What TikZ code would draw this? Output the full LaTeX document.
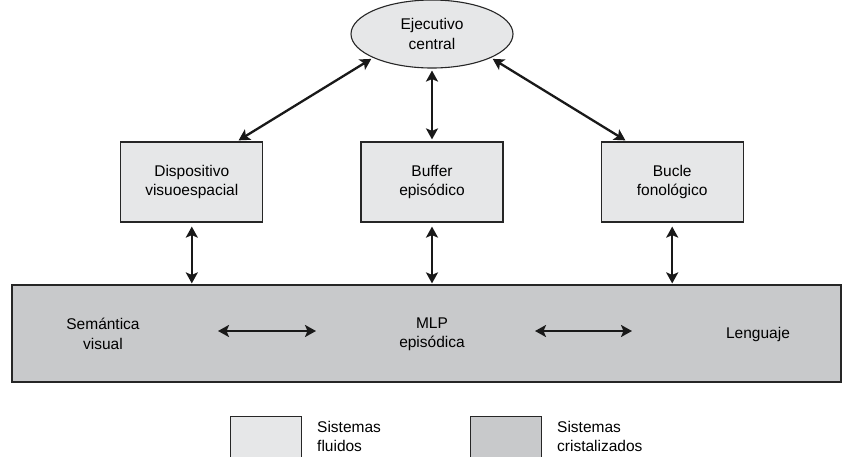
\documentclass[tikz,border=0pt]{standalone}
\usepackage{fontspec}
\setmainfont{Liberation Sans}
\usetikzlibrary{arrows.meta,
    positioning,
    shapes.geometric}
\definecolor{fluido}{RGB}{230,231,232}
\definecolor{cristal}{RGB}{200,201,203}

\begin{document}
\begin{tikzpicture}[x=1pt, y=-1pt,
                  font = \fontsize{15.5}{19.3}\selectfont,
                  node distance = 97pt,
                  caja/.style = {draw=black!85, line width=1.2pt, fill=fluido,
                                 minimum width=142pt, minimum height=80pt,
                                 align=center, inner sep=0pt},
                  arr/.style = {{Stealth[length=11pt,width=12pt,inset=2.5pt]}-{Stealth[length=11pt,width=12pt,inset=2.5pt]},
                                line width=2.3pt, black!90},
                  txt/.style = {align=center, inner sep=0pt}
                  ]
\useasboundingbox (0,0) rectangle (843,456);
% memoria de trabajo
\node (ejec) [ellipse, draw=black!85, line width=1.1pt, fill=fluido,
              minimum width=162pt, minimum height=68pt, align=center] at (432,34) {Ejecutivo\\central};
\node (buffer) [caja] at (432,182) {Buffer\\episódico};
\node (dispo)  [caja, left=of buffer]  {Dispositivo\\visuoespacial};
\node (bucle)  [caja, right=of buffer] {Bucle\\fonológico};
% memoria a largo plazo
\node (mlp) [draw=black!85, line width=1.2pt, fill=cristal,
             minimum width=829pt, minimum height=97pt] at (426.5,333.5) {};
\node (sem)  [txt] at (103,334) {Semántica\\visual};
\node (epis) [txt] at (432,334) {MLP\\episódica};
\node (leng) [txt] at (758,334) {Lenguaje};
% flechas
\draw[arr, shorten <=2pt, shorten >=2pt] (ejec.202) -- (dispo.42);
\draw[arr, shorten <=2pt, shorten >=2pt] (ejec.338) -- (bucle.138);
\draw[arr, shorten <=2pt, shorten >=2pt] (ejec.south) -- (buffer.north);
\foreach \n in {dispo, buffer, bucle}
    \draw[arr, shorten <=4pt, shorten >=1pt] (\n.south) -- (\n.south |- mlp.north);
\draw[arr, shorten <=115pt, shorten >=116pt] ([yshift=3pt]sem.center) -- ([yshift=3pt]epis.center);
\draw[arr, shorten <=103pt, shorten >=126pt] ([yshift=3pt]epis.center) -- ([yshift=3pt]leng.center);
% leyenda
\node (leyfl) [draw=black!85, line width=1pt, fill=fluido, minimum width=71pt,
               minimum height=54pt, anchor=north west] at (230,416) {};
\node (leycr) [draw=black!85, line width=1pt, fill=cristal, minimum width=71pt,
               minimum height=54pt, anchor=north west] at (470,416) {};
\node (txtfl) [anchor=north west, align=left, inner sep=0pt]
      at ([xshift=15pt, yshift=-5pt]leyfl.north east) {Sistemas\\fluidos};
\node (txtcr) [anchor=north west, align=left, inner sep=0pt]
      at ([xshift=15pt, yshift=-5pt]leycr.north east) {Sistemas\\cristalizados};
\end{tikzpicture}
\end{document}
